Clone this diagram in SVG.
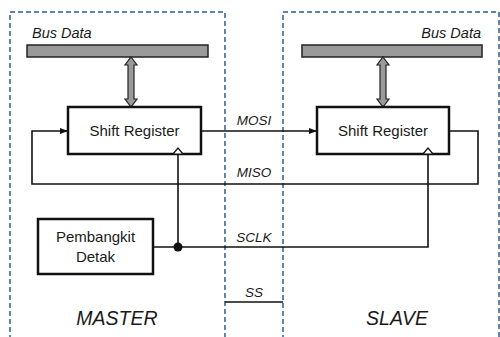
<svg xmlns="http://www.w3.org/2000/svg" width="500" height="337" viewBox="0 0 500 337">
<defs>
<style>
.zone{fill:none;stroke:#2e5b91;stroke-width:1.5;stroke-dasharray:5,3}
.bus{fill:#9a9a9a;stroke:#222;stroke-width:1.5}
.darr{fill:#9a9a9a;stroke:#222;stroke-width:1.2;stroke-linejoin:miter}
.box{fill:#fff;stroke:#111;stroke-width:2.5}
.w{fill:none;stroke:#111;stroke-width:1.6}
.t{font-family:"Liberation Sans",Arial,sans-serif;fill:#1a1a1a}
.it{font-style:italic}
.tri{fill:#fff;stroke:#111;stroke-width:1.2}
</style>
<marker id="ah" viewBox="0 0 8 8" refX="8" refY="4" markerWidth="8" markerHeight="8" markerUnits="userSpaceOnUse" orient="auto">
<path d="M0,1 L8,4 L0,7 Z" fill="#111"/>
</marker>
</defs>
<rect width="500" height="337" fill="#fff"/>
<g id="master-zone">
<path class="zone" d="M10,340 V12 H225 V340"/>
<text class="t it" x="117" y="325" font-size="19.5" text-anchor="middle">MASTER</text>
</g>
<g id="slave-zone">
<path class="zone" d="M283,340 V12 H499 V340"/>
<text class="t it" x="397" y="325" font-size="19.5" text-anchor="middle">SLAVE</text>
</g>
<g id="connectors">
<line class="w" x1="201" y1="131" x2="317" y2="131" marker-end="url(#ah)"/>
<path class="w" d="M449,131 H478 V184 H32 V131 H68" marker-end="url(#ah)"/>
<path class="w" d="M178,154 V247"/>
<path class="w" d="M153,247 H428 V154"/>
<circle cx="178" cy="247" r="4.5" fill="#111"/>
<line class="w" x1="225" y1="302" x2="283" y2="302"/>
<text class="t it" x="254" y="125" font-size="13.5" text-anchor="middle">MOSI</text>
<text class="t it" x="254" y="177" font-size="13.5" text-anchor="middle">MISO</text>
<text class="t it" x="254" y="242" font-size="13.5" text-anchor="middle">SCLK</text>
<text class="t it" x="254" y="297" font-size="13.5" text-anchor="middle">SS</text>
</g>
<g id="master-bus">
<rect class="bus" x="27" y="45" width="181" height="12"/>
<text class="t it" x="32" y="38" font-size="14.5">Bus Data</text>
<polygon class="darr" points="131,57 137,65 134,65 134,99 137,99 131,107 125,99 128,99 128,65 125,65"/>
</g>
<g id="slave-bus">
<rect class="bus" x="302" y="45" width="180" height="12"/>
<text class="t it" x="481" y="38" font-size="14.5" text-anchor="end">Bus Data</text>
<polygon class="darr" points="383,57 389,65 386,65 386,99 389,99 383,107 377,99 380,99 380,65 377,65"/>
</g>
<g id="master-shift">
<rect class="box" x="68" y="107" width="133" height="47"/>
<text class="t" x="134.5" y="136" font-size="15" text-anchor="middle">Shift Register</text>
<polygon class="tri" points="173,154 178,148 183,154"/>
</g>
<g id="slave-shift">
<rect class="box" x="317" y="107" width="132" height="47"/>
<text class="t" x="383" y="136" font-size="15" text-anchor="middle">Shift Register</text>
<polygon class="tri" points="423,154 428,148 433,154"/>
</g>
<g id="clock-gen">
<rect class="box" x="38" y="219" width="115" height="55"/>
<text class="t" x="95.5" y="242" font-size="15" text-anchor="middle">Pembangkit</text>
<text class="t" x="95.5" y="262" font-size="15" text-anchor="middle">Detak</text>
</g>
</svg>
